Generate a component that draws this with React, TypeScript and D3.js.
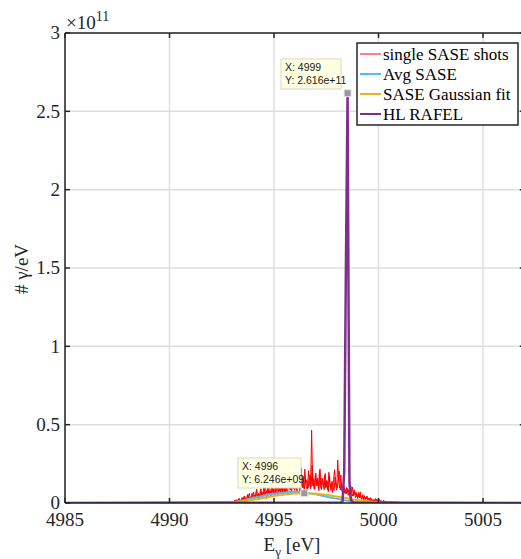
import React from "react";
import * as d3 from "d3";

// photon energy axis (eV) and y ticks (x1e11)
const xTicks = [4985, 4990, 4995, 5000, 5005];
const yTicks = [0, 0.5, 1, 1.5, 2, 2.5, 3];

// single SASE shots, units of 1e9 photons/eV, sampled every 0.05 eV
const shotStep = 0.05;
const shotAStart = 4993;
const shotAVals = [
  0.3, 1.2, 0.5, 2.0, 0.8, 1.5, 0.4, 2.6, 1.1, 0.7,
  3.1, 1.4, 4.2, 2.0, 0.9, 5.6, 2.3, 3.8, 1.6, 6.4,
  2.8, 4.9, 1.9, 7.2, 3.5, 5.1, 2.4, 8.3, 4.0, 3.1,
  9.6, 4.4, 6.8, 3.0, 10.5, 5.2, 7.9, 4.1, 13.8, 6.0,
  8.7, 4.6, 11.2, 7.3, 5.0, 14.5, 6.2, 9.8, 4.8, 12.6,
  7.1, 16.3, 8.4, 5.9, 19.5, 9.0, 12.1, 6.6, 21.0, 10.2,
  8.0, 14.7, 6.9, 18.2, 11.3, 7.5, 22.4, 9.6, 13.9, 8.1,
  16.8, 10.4, 7.7, 20.6, 12.2, 9.1, 46.5, 11.0, 15.4, 8.6,
  19.1, 10.8, 14.2, 7.9, 21.7, 9.3, 16.0, 12.5, 8.4, 18.9,
  10.1, 13.6, 7.2, 17.4, 9.9, 12.8, 6.8, 15.1, 21.3, 11.4,
  8.2, 27.4, 13.0, 9.4, 17.8, 7.6, 10.6, 6.1, 8.8, 5.7,
  9.3, 4.9, 7.4, 3.8, 6.5, 10.2, 4.6, 7.8, 3.5, 5.9,
  2.9, 6.7, 3.3, 4.8, 2.2, 5.4, 1.8, 3.9, 2.6, 4.5,
  1.9, 3.2, 1.2, 2.7, 0.9, 2.0, 1.5, 2.9, 0.8, 1.7,
  1.1, 2.2, 0.6, 1.4, 0.9, 1.8, 0.5, 1.2, 0.4, 1.0,
  0.3, 0.8, 0.5, 1.1, 0.2, 0.7, 0.4, 0.9, 0.3, 0.5,
  0.2,
];
const shotBStart = 4993.025;
const shotBVals = [
  0.8, 0.4, 1.7, 0.6, 2.2, 1.0, 3.0, 0.9, 1.9, 3.6,
  1.8, 4.5, 2.6, 1.2, 5.0, 3.2, 6.1, 2.1, 4.4, 2.9,
  6.9, 3.6, 5.4, 8.8, 2.7, 6.2, 4.3, 9.1, 3.8, 7.0,
  5.5, 11.6, 6.3, 8.2, 4.9, 12.4, 7.0, 5.8, 9.9, 6.6,
  13.1, 8.0, 5.9, 10.7, 15.8, 7.4, 9.4, 11.9, 6.7, 14.0,
  9.7, 6.8, 17.6, 10.9, 13.3, 8.1, 15.6, 20.1, 9.2, 12.7,
  16.4, 10.0, 12.9, 19.8, 8.7, 14.1, 11.1, 17.3, 9.8, 21.6,
  12.0, 14.9, 9.5, 13.7, 18.0, 10.3, 24.0, 12.9, 8.9, 17.2,
  11.7, 15.9, 9.1, 20.3, 12.6, 8.6, 14.8, 10.9, 17.7, 9.7,
  14.4, 8.4, 19.6, 11.5, 7.9, 13.9, 10.2, 8.0, 16.6, 12.1,
  9.6, 14.6, 20.4, 8.3, 12.3, 6.9, 11.8, 8.9, 6.3, 9.9,
  6.4, 8.6, 5.2, 10.9, 6.0, 4.3, 8.4, 5.1, 6.9, 4.0,
  5.6, 3.6, 7.1, 2.8, 4.1, 3.0, 4.7, 2.3, 3.4, 2.0,
  2.6, 1.6, 3.5, 1.1, 2.3, 1.3, 1.9, 1.0, 2.4, 1.2,
  0.8, 1.6, 1.0, 0.5, 1.3, 0.7, 1.0, 0.6, 0.8, 0.5,
  0.6, 0.3, 0.7, 0.4, 0.5, 0.2, 0.6, 0.3, 0.4, 0.2,
];
const shotTailX = [4985, 4990, 4992, 4992.5, 5002, 5007];
const shotTailY = [0, 0.05, 0.2, 0.4, 0.1, 0];

// average SASE, every 0.25 eV from 4993
const avgStart = 4993;
const avgStep = 0.25;
const avgVals = [
  0.4, 0.9, 1.6, 2.4, 3.3, 3.9, 4.6, 5.4, 5.9, 6.3, 6.6, 7.0, 7.2, 6.9, 6.5,
  6.1, 5.5, 4.8, 4.2, 3.4, 2.8, 2.0, 1.5, 1.0, 0.6, 0.4, 0.2, 0.1, 0.05,
];

// gaussian fit
const fitX = [4985, 4992, 4992.5, 4993, 4993.5, 4994, 4994.5, 4995, 4995.5, 4996, 4996.45,
  4997, 4997.5, 4998, 4998.5, 4999, 4999.5, 5000, 5000.5, 5001, 5001.5, 5007];
const fitY = [0, 0.1, 0.3, 0.6, 1.2, 2.1, 3.2, 4.4, 5.4, 6.05, 6.246,
  5.95, 5.2, 4.1, 3.0, 1.9, 1.1, 0.55, 0.25, 0.1, 0.03, 0];

// HL RAFEL
const rafelX = [4985, 4998.2, 4998.28, 4998.36, 4998.44, 4998.52, 4998.57, 4998.61, 4998.68, 4998.78, 5007];
const rafelY = [0, 0.3, 1.0, 20, 150, 261.6, 120, 13, 2, 0.3, 0];

const series = [
  { name: "single SASE shots", color: "#FF0000" },
  { name: "Avg SASE", color: "#4DBEEE" },
  { name: "SASE Gaussian fit", color: "#EDB120" },
  { name: "HL RAFEL", color: "#7E2F8E" },
];

const tips = [
  { x: 4998.52, y: 261.6, lines: ["X: 4999", "Y: 2.616e+11"], bx: 281, by: 59, bw: 60, bh: 30 },
  { x: 4996.45, y: 6.246, lines: ["X: 4996", "Y: 6.246e+09"], bx: 238, by: 458, bw: 63, bh: 30 },
];

const W = 521;
const H = 559;
const left = 65;
const top = 33;
const bottom = 503;

type Pt = [number, number];

const serif = "'Times New Roman', 'Liberation Serif', serif";
const sans = "'Liberation Sans', Arial, sans-serif";
const axisColor = "#262626";

export default function App() {
  const x = d3.scaleLinear().domain([4985, 5007]).range([left, left + 22 * 20.9]);
  const y = d3.scaleLinear().domain([0, 3e11]).range([bottom, top]);
  const right = x(5007);

  const line = d3.line<Pt>()
    .x(d => x(d[0]))
    .y(d => y(d[1] * 1e9));
  const smooth = d3.line<Pt>()
    .x(d => x(d[0]))
    .y(d => y(d[1] * 1e9))
    .curve(d3.curveMonotoneX);

  const shot = (start: number, vals: number[]): Pt[] => [
    ...shotTailX.slice(0, 4).map((v, i) => [v, shotTailY[i]] as Pt),
    ...vals.map((v, i) => [start + i * shotStep, v] as Pt),
    ...shotTailX.slice(4).map((v, i) => [v, shotTailY[i + 4]] as Pt),
  ];
  const avgPts: Pt[] = [
    [4985, 0],
    ...avgVals.map((v, i) => [avgStart + i * avgStep, v] as Pt),
    [5007, 0],
  ];
  const fitPts = fitX.map((v, i) => [v, fitY[i]] as Pt);
  const rafelPts = rafelX.map((v, i) => [v, rafelY[i]] as Pt);

  return (
    <svg width={W} height={H} style={{ position: "absolute", left: 0, top: 0, background: "#fff" }}>
      <defs>
        <clipPath id="plot">
          <rect x={left} y={top} width={right - left} height={bottom - top} />
        </clipPath>
      </defs>
      <rect x={0} y={0} width={W} height={H} fill="#fff" />
      {/* grid */}
      {xTicks.map(t => (
        <line key={"gx" + t} x1={x(t)} x2={x(t)} y1={top} y2={bottom} stroke="#dfdfdf" strokeWidth={1.5} />
      ))}
      {yTicks.map(t => (
        <line key={"gy" + t} x1={left} x2={right} y1={y(t * 1e11)} y2={y(t * 1e11)} stroke="#dfdfdf" strokeWidth={1.5} />
      ))}
      {/* data */}
      <g clipPath="url(#plot)" fill="none" strokeLinejoin="round">
        <path d={line(shot(shotBStart, shotBVals)) || ""} stroke={series[0].color} strokeWidth={1} />
        <path d={line(shot(shotAStart, shotAVals)) || ""} stroke={series[0].color} strokeWidth={1} />
        <path d={line(avgPts) || ""} stroke={series[1].color} strokeWidth={2} />
        <path d={smooth(fitPts) || ""} stroke={series[2].color} strokeWidth={2} />
        <path d={line(rafelPts) || ""} stroke={series[3].color} strokeWidth={2.5} />
      </g>
      {/* axes box */}
      <g stroke={axisColor} strokeWidth={1.5}>
        <line x1={left} x2={left} y1={top} y2={bottom} />
        <line x1={left} x2={right} y1={bottom} y2={bottom} />
        <line x1={left} x2={right} y1={top} y2={top} />
        <line x1={right} x2={right} y1={top} y2={bottom} />
        {xTicks.map(t => (
          <g key={"tx" + t}>
            <line x1={x(t)} x2={x(t)} y1={bottom} y2={bottom - 5} />
            <line x1={x(t)} x2={x(t)} y1={top} y2={top + 5} />
          </g>
        ))}
        {yTicks.map(t => (
          <g key={"ty" + t}>
            <line x1={left} x2={left + 5} y1={y(t * 1e11)} y2={y(t * 1e11)} />
            <line x1={right} x2={right - 5} y1={y(t * 1e11)} y2={y(t * 1e11)} />
          </g>
        ))}
      </g>
      {/* tick labels */}
      {xTicks.map(t => (
        <text key={"lx" + t} x={x(t)} y={526} textAnchor="middle" fontFamily={serif} fontSize={19} fill={axisColor}>{String(t)}</text>
      ))}
      {yTicks.map(t => (
        <text key={"ly" + t} x={60} y={y(t * 1e11)} dy="0.33em" textAnchor="end" fontFamily={serif} fontSize={19} fill={axisColor}>{String(t)}</text>
      ))}
      <text x={66} y={29} fontFamily={serif} fontSize={19} fill={axisColor}>
        ×10<tspan dy={-8} fontSize={14}>11</tspan>
      </text>
      <text x={292} y={551} textAnchor="middle" fontFamily={serif} fontSize={19} fill={axisColor}>
        E<tspan dy={5} fontSize={13}>γ</tspan><tspan dy={-5}> [eV]</tspan>
      </text>
      <text transform="translate(28,269) rotate(-90)" textAnchor="middle" fontFamily={serif} fontSize={19} fill={axisColor}># γ/eV</text>
      {/* data tips */}
      {tips.map((tp, i) => (
        <g key={"tip" + i}>
          <rect x={x(tp.x) - 3.5} y={y(tp.y * 1e9) - 3.5} width={7} height={7} fill="#9a9a9a" stroke="#e8e8e8" strokeWidth={1} />
          <rect x={tp.bx} y={tp.by} width={tp.bw} height={tp.bh} fill="#FFFFE1" stroke="#d8d8c8" strokeWidth={1} />
          {tp.lines.map((s, j) => (
            <text key={j} x={tp.bx + 4} y={tp.by + 12 + j * 13} fontFamily={sans} fontSize={10.5} fill="#1a1a1a">{s}</text>
          ))}
        </g>
      ))}
      {/* legend */}
      <g>
        <rect x={357} y={43} width={161} height={82} fill="#fff" stroke={axisColor} strokeWidth={1.5} />
        {series.map((s, i) => (
          <g key={s.name}>
            <line x1={360} x2={381} y1={54 + i * 20} y2={54 + i * 20} stroke={s.color} strokeWidth={i === 0 ? 1 : 2} />
            <text x={383} y={54 + i * 20} dy="0.33em" fontFamily={serif} fontSize={17} fill="#000">{s.name}</text>
          </g>
        ))}
      </g>
    </svg>
  );
}
